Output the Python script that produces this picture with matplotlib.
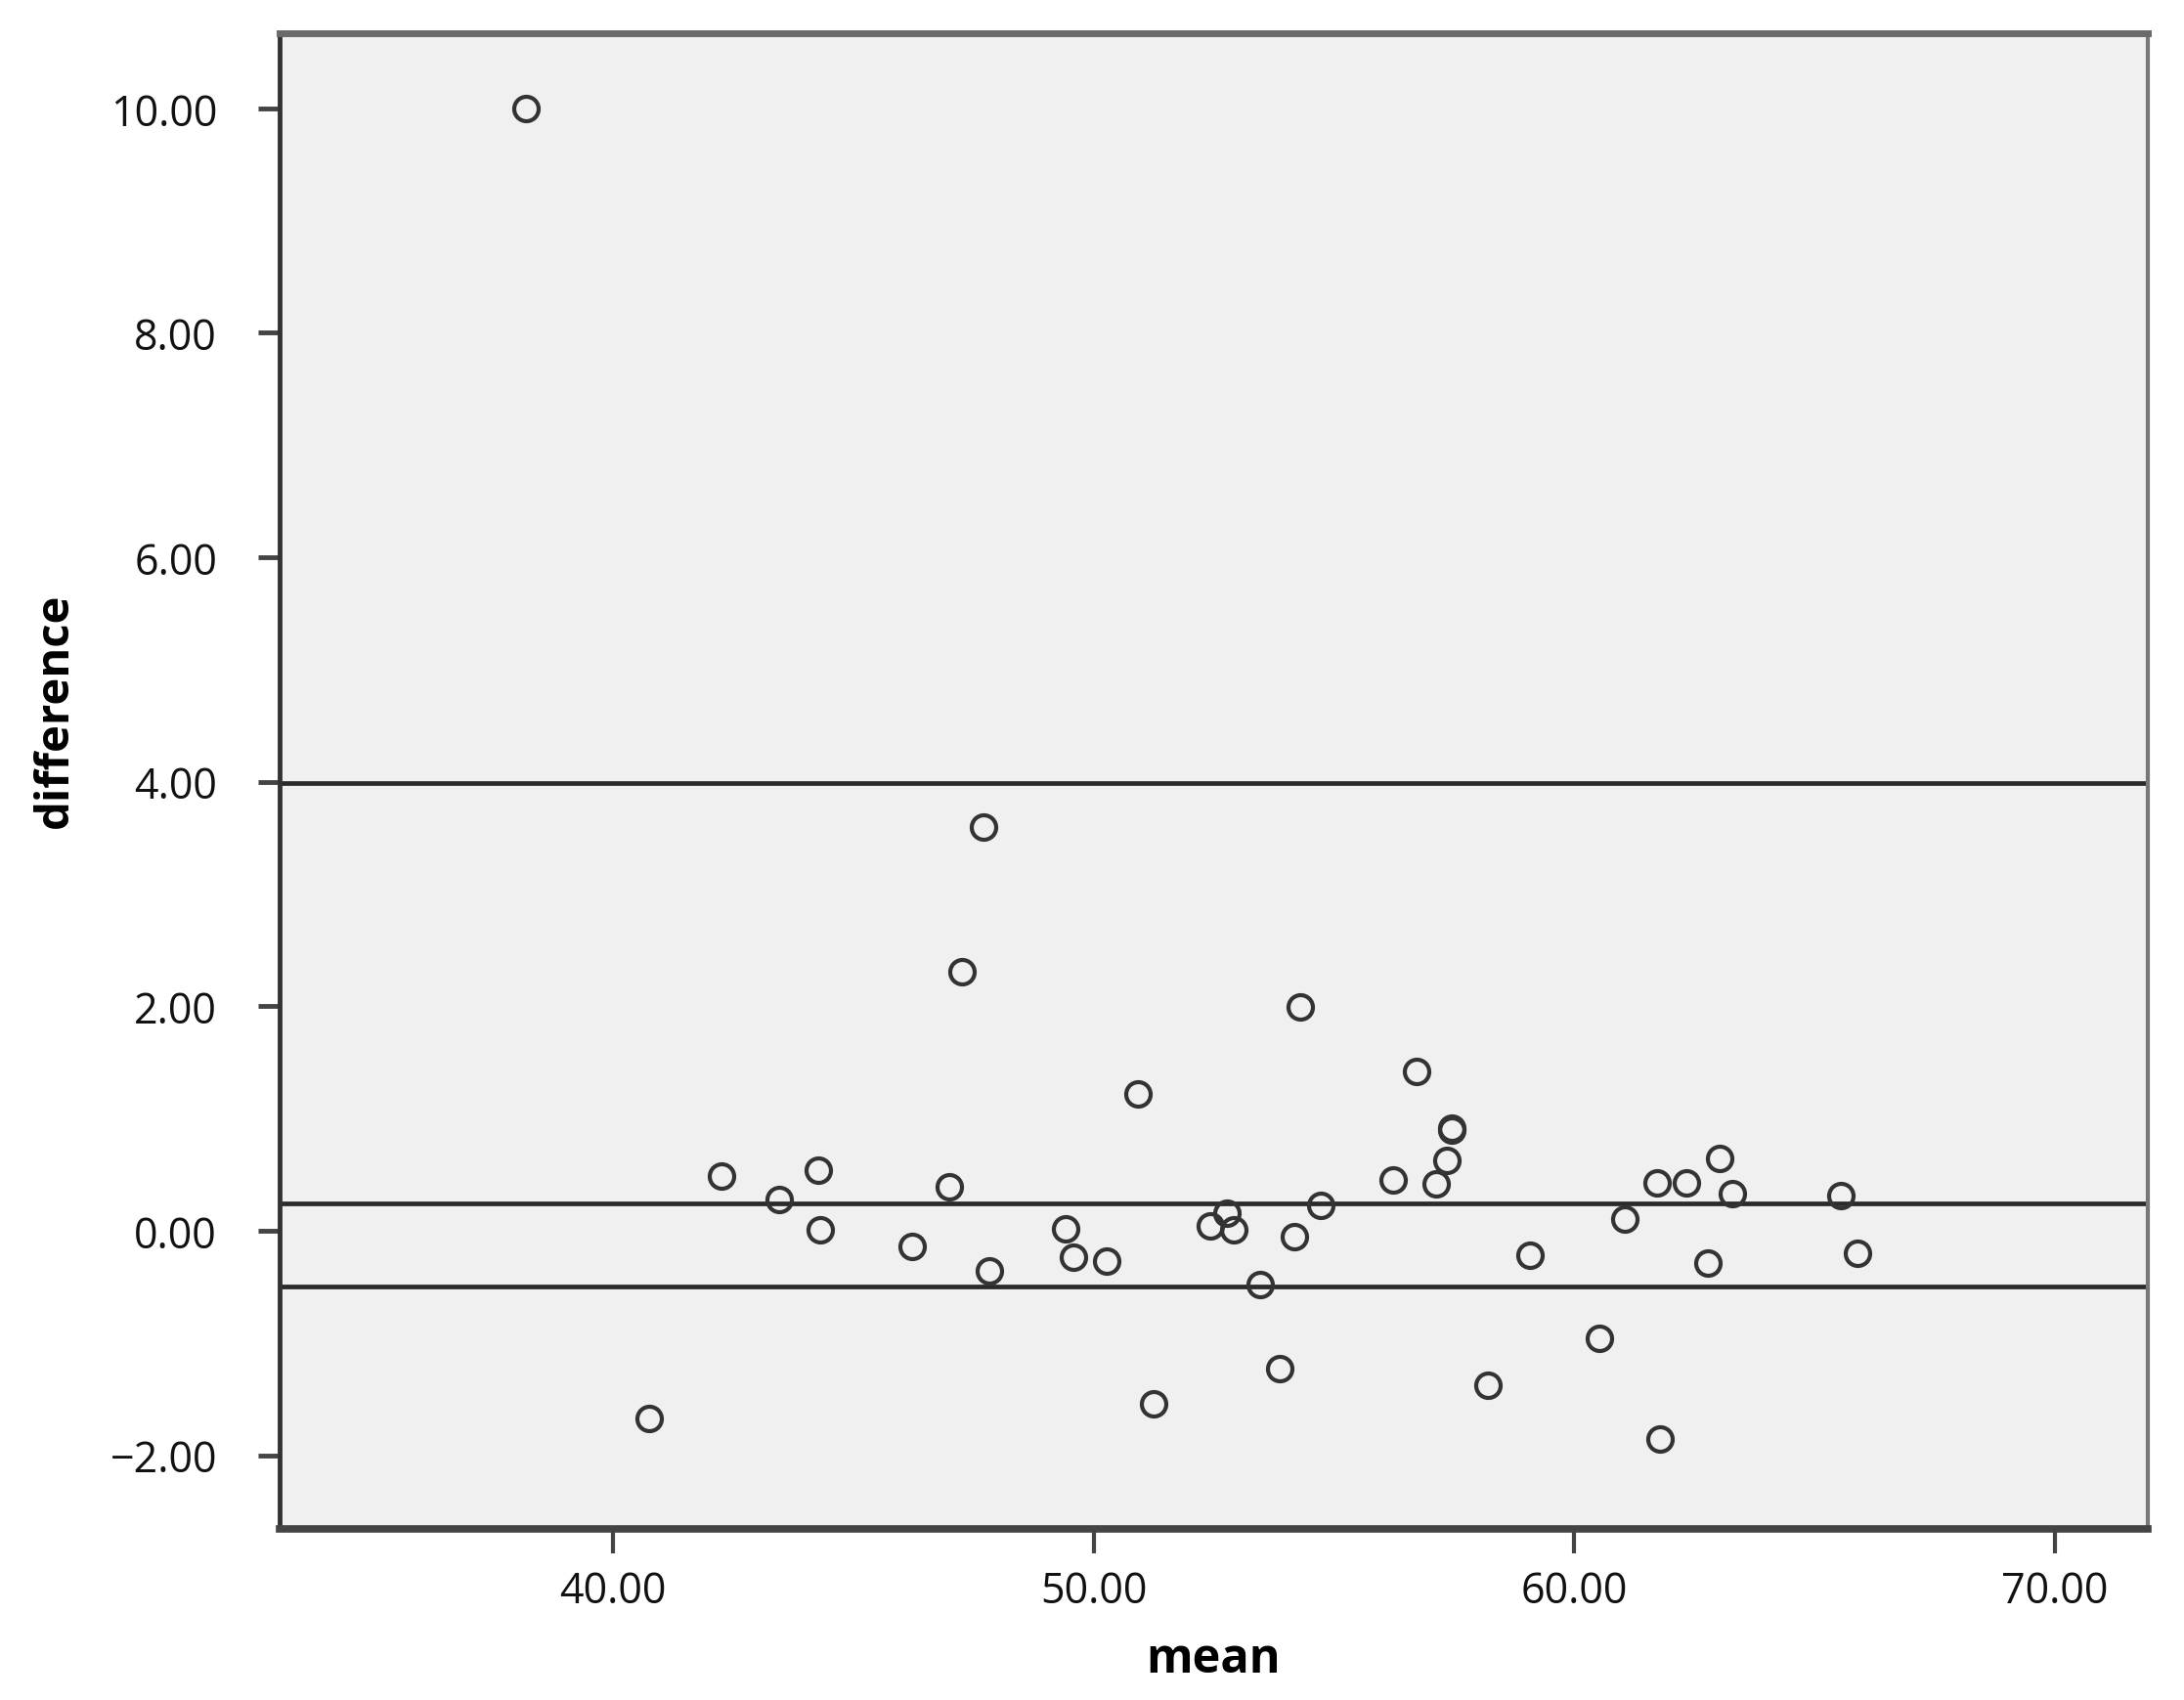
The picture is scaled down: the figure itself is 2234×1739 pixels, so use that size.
import matplotlib
matplotlib.use("Agg")
import matplotlib.pyplot as plt
from matplotlib.ticker import FuncFormatter

# Data (Bland-Altman style plot)
mean_vals = [38.20, 47.71, 47.27, 54.30, 56.71, 50.93, 57.46, 57.46, 57.35, 57.12,
             56.24, 42.25, 44.28, 43.45, 47.00, 44.31, 46.23, 47.83, 49.41, 49.58,
             50.27, 51.24, 52.42, 52.78, 52.91, 53.46, 53.88, 54.17, 54.73, 40.76,
             58.20, 59.08, 60.53, 61.05, 61.72, 61.78, 62.33, 62.77, 63.02, 63.28,
             65.55, 65.90]
diff_vals = [10.00, 3.60, 2.31, 1.99, 1.42, 1.22, 0.91, 0.90, 0.63, 0.42,
             0.45, 0.49, 0.54, 0.28, 0.39, 0.01, -0.14, -0.36, 0.02, -0.24,
             -0.27, -1.54, 0.04, 0.16, 0.01, -0.48, -1.23, -0.05, 0.23, -1.67,
             -1.38, -0.22, -0.96, 0.10, 0.43, -1.86, 0.43, -0.29, 0.64, 0.33,
             0.31, -0.20]
ref_lines = [3.99, 0.24, -0.50]   # upper limit, mean difference, lower limit
x_ticks = [40, 50, 60, 70]
y_ticks = [-2, 0, 2, 4, 6, 8, 10]

plt.rcParams['font.family'] = ['Open Sans', 'DejaVu Sans']

fig = plt.figure(figsize=(22.34, 17.40), dpi=100)
ax = fig.add_axes([0.128, 0.1006, 0.8554, 0.8793])
ax.set_facecolor('#f0f0f0')

for yv in ref_lines:
    ax.axhline(yv, color='#2a2a2a', lw=3.4, zorder=2)

ax.plot(mean_vals, diff_vals, linestyle='none', marker='o', markersize=18,
        markerfacecolor='none', markeredgecolor='#333333', markeredgewidth=3.0,
        zorder=3)

ax.set_xlim(33.065, 71.93)
ax.set_ylim(-2.657, 10.67)

ax.set_xticks(x_ticks)
ax.set_yticks(y_ticks)
fmt = FuncFormatter(lambda v, p: f"{v:.2f}".replace('-', '\u2212'))
ax.xaxis.set_major_formatter(fmt)
ax.yaxis.set_major_formatter(fmt)

ax.tick_params(axis='y', direction='out', length=16, width=3.5, color='#444444',
               labelsize=31, pad=30, labelcolor='#111111')
ax.tick_params(axis='x', direction='out', length=18, width=3, color='#444444',
               labelsize=31, pad=12, labelcolor='#111111')

for side, col, lw in [('left', '#333333', 3.5), ('bottom', '#444444', 5.5),
                      ('top', '#6a6a6a', 5), ('right', '#777777', 3)]:
    ax.spines[side].set_color(col)
    ax.spines[side].set_linewidth(lw)

ax.set_xlabel('mean', fontsize=35, fontweight='bold', va='center')
ax.xaxis.set_label_coords(0.5, -0.087)
ax.set_ylabel('difference', fontsize=34, fontweight='bold', va='center')
ax.yaxis.set_label_coords(-0.12, 0.548)

fig.savefig('out.png', dpi=100, facecolor='white')
